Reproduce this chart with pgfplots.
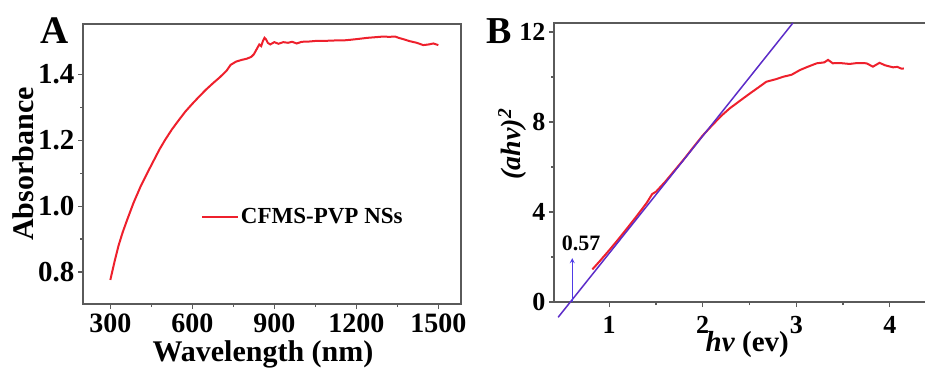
\documentclass[border=0pt]{standalone}
\usepackage{fontspec}
\setmainfont{Liberation Serif}
\usepackage{pgfplots}
\pgfplotsset{compat=1.18}
\definecolor{cred}{RGB}{238,32,44}
\definecolor{cpurp}{RGB}{92,44,200}
\definecolor{carrow}{RGB}{80,60,230}
\definecolor{axgray}{RGB}{90,90,90}

\pgfplotstableread{
x y
300 0.776
315 0.83
330 0.88
345 0.92
361 0.957
385 1.01
410 1.058
435 1.10
460 1.14
480 1.172
500 1.20
525 1.232
550 1.26
575 1.287
600 1.31
625 1.332
650 1.353
675 1.372
700 1.39
725 1.41
740 1.428
760 1.438
780 1.443
800 1.447
815 1.452
825 1.46
835 1.475
845 1.49
852 1.485
858 1.50
864 1.51
870 1.505
876 1.495
885 1.49
900 1.497
915 1.492
933 1.497
950 1.495
965 1.498
982 1.493
1000 1.498
1030 1.499
1055 1.501
1090 1.501
1120 1.502
1150 1.502
1177 1.504
1210 1.507
1240 1.51
1270 1.512
1299 1.514
1320 1.513
1342 1.514
1355 1.510
1372 1.506
1395 1.50
1421 1.495
1445 1.488
1465 1.49
1482 1.493
1500 1.488
}\absdata

\pgfplotstableread{
x y
0.82 1.45
0.90 1.82
1.00 2.30
1.10 2.80
1.20 3.32
1.30 3.85
1.40 4.40
1.46 4.80
1.50 4.90
1.60 5.35
1.70 5.85
1.80 6.35
1.90 6.88
2.00 7.40
2.10 7.85
2.20 8.28
2.29 8.61
2.40 8.95
2.505 9.27
2.60 9.55
2.68 9.79
2.78 9.90
2.86 10.01
2.95 10.10
3.04 10.31
3.12 10.45
3.22 10.61
3.30 10.65
3.34 10.76
3.39 10.61
3.47 10.62
3.57 10.58
3.65 10.62
3.75 10.61
3.82 10.46
3.89 10.63
3.95 10.52
4.035 10.43
4.08 10.45
4.125 10.37
4.15 10.38
}\taucdata

\begin{document}
\begin{tikzpicture}
\useasboundingbox (0,0) rectangle (925pt,368pt);
\pgfplotsset{every axis/.append style={
  scale only axis,
  axis line style={axgray, line width=1.3pt},
  tick style={axgray, line width=1.1pt},
  tick align=outside, major tick length=5pt, minor tick length=3pt,
  /pgf/number format/assume math mode=true,
  xtick pos=left, ytick pos=left,
  label style={font=\bfseries\fontsize{30}{30}\selectfont},
}}
% Panel A
\begin{axis}[
  at={(83pt,64pt)}, anchor=south west,
  width=378pt, height=280pt,
  xmin=200, xmax=1583, ymin=0.703, ymax=1.552,
  xtick={300,600,900,1200,1500},
  xticklabels={300,600,900,1200,1500},
  minor x tick num=1,
  ytick={0.8,1.0,1.2,1.4},
  yticklabels={0.8,1.0,1.2,1.4},
  minor y tick num=1,
  ticklabel style={font=\bfseries\fontsize{29}{29}\selectfont},
  xticklabel style={yshift=-5pt, inner sep=0pt, font=\bfseries\fontsize{28}{28}\selectfont},
  xlabel={Wavelength (nm)}, ylabel={Absorbance},
  xlabel style={at={(axis description cs:0.476,-0.204)}, anchor=base, inner sep=0pt},
  ylabel style={at={(axis description cs:-0.132,0.5)}, anchor=base},
  legend style={draw=none, fill=none, at={(axis description cs:0.305,0.311)}, anchor=west,
    font=\bfseries\fontsize{23}{23}\selectfont, nodes={inner sep=1.5pt}},
  legend image code/.code={\draw[#1] (0pt,0pt) -- (36pt,0pt);},
]
\addplot[cred, line width=2pt] table[x=x,y=y] {\absdata};
\addlegendentry{CFMS-PVP NSs}
\end{axis}
% Panel B
\begin{axis}[
  at={(554pt,66pt)}, anchor=south west,
  width=376pt, height=279pt,
  xmin=0.41, xmax=4.43, ymin=0, ymax=12.4,
  xtick={1,2,3,4}, ytick={0,4,8,12},
  minor x tick num=1, minor y tick num=1,
  ticklabel style={font=\bfseries\fontsize{26}{26}\selectfont},
  xticklabel style={yshift=-9pt, inner sep=0pt},
  clip=false,
  xlabel={\textit{hv} (ev)},
  ylabel={\fontsize{28}{28}\selectfont\itshape (ahv)\textsuperscript{2}},
  xlabel style={at={(axis description cs:0.514,-0.178)}, anchor=base, inner sep=0pt, font=\bfseries\fontsize{29}{29}\selectfont},
  ylabel style={at={(axis description cs:-0.090,0.566)}, anchor=base},
]
\addplot[cred, line width=2pt] table[x=x,y=y] {\taucdata};
\addplot[cpurp, line width=1.5pt] coordinates {(0.454,-0.68) (2.964,12.4)};
\addplot[carrow, line width=1.2pt, -stealth] coordinates {(0.605,0) (0.605,1.95)};
\node[font=\bfseries\fontsize{22}{22}\selectfont, inner sep=0pt] at (axis cs:0.70,2.62) {0.57};
\end{axis}
\node[anchor=base west, inner sep=0pt, font=\bfseries\fontsize{39}{39}\selectfont] at (40pt,325pt) {A};
\node[anchor=base west, inner sep=0pt, font=\bfseries\fontsize{38}{38}\selectfont] at (486pt,325pt) {B};
\end{tikzpicture}
\end{document}
